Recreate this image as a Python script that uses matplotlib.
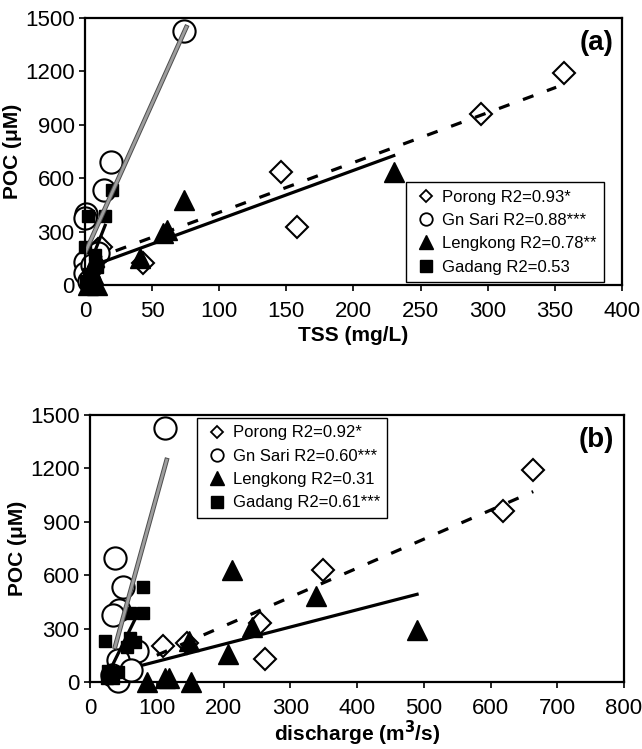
import matplotlib
matplotlib.use('Agg')
from matplotlib import pyplot as plt
from matplotlib import patheffects as pe
from matplotlib.lines import Line2D
import numpy as np

plt.rcParams['font.family'] = ['Liberation Sans', 'DejaVu Sans']

# Panel (a): POC vs TSS
porong_tss = [3, 6, 10, 12, 43, 146, 158, 295, 357]
porong_poc_a = [65, 100, 200, 215, 124, 632, 325, 962, 1192]
gnsari_tss = [74, 19.5, 14, 1, 0, 10, 0, 0, 3, 5]
gnsari_poc_a = [1427, 690, 535, 400, 375, 180, 130, 70, 20, 110]
lengkong_tss = [74, 61, 58, 41, 230, 2, 5, 7, 9, 6]
lengkong_poc_a = [478, 309, 290, 150, 636, 0, 20, 15, 0, 60]
gadang_tss = [20, 2.5, 15, 0, 7.4, 3, 1, 4, 9]
gadang_poc_a = [534, 388, 388, 215, 168, 60, 20, 30, 100]

# Panel (b): POC vs discharge
porong_q = [47, 60, 110, 146, 255, 262, 349, 618, 663]
porong_poc_b = [65, 100, 202, 218, 330, 129, 629, 961, 1191]
gnsari_q = [112, 37.5, 49, 44, 35, 70, 42, 33, 42, 62]
gnsari_poc_b = [1427, 695, 532, 404, 376, 176, 124, 40, 5, 67]
lengkong_q = [213, 338, 242, 148, 207, 490, 85, 112, 118, 152]
lengkong_poc_b = [629, 483, 311, 230, 156, 292, 0, 20, 20, 0]
gadang_q = [79, 60, 79, 22.5, 60, 55, 27, 25, 35, 42, 67]
gadang_poc_b = [535, 386, 386, 232, 245, 198, 60, 20, 20, 58, 226]

# regression lines: (x start, x end, slope, intercept)
fits_a = {'porong': (5, 351, 2.8, 128), 'gnsari': (0, 75.5, 16.8, 180),
          'lengkong': (3, 230, 2.755, 93), 'gadang': (0, 15, 19, 50)}
fits_b = {'porong': (100, 664, 1.63, -12.5), 'gnsari': (37.5, 114.8, 13.57, -311),
          'lengkong': (80, 490, 0.968, 18.6), 'gadang': (30, 71, 7.63, -162)}

labels_a = ['Porong R2=0.93*', 'Gn Sari R2=0.88***', 'Lengkong R2=0.78**',
            'Gadang R2=0.53']
labels_b = ['Porong R2=0.92*', 'Gn Sari R2=0.60***', 'Lengkong R2=0.31',
            'Gadang R2=0.61***']

# legend keys are drawn at roughly equal size
legend_keys = [
    Line2D([], [], ls='none', marker='D', ms=6.5, mfc='white', mec='black', mew=1.3),
    Line2D([], [], ls='none', marker='o', ms=9, mfc='white', mec='black', mew=1.3),
    Line2D([], [], ls='none', marker='^', ms=10, mfc='black', mec='black'),
    Line2D([], [], ls='none', marker='s', ms=8, mfc='black', mec='black'),
]


def fit_line(ax, fit, **kw):
    x = np.array([fit[0], fit[1]])
    return ax.plot(x, fit[2]*x + fit[3], **kw)


def draw_panel(ax, data, fits):
    (px, py), (gx, gy), (lx, ly), (sx, sy) = data
    ax.plot(px, py, 'D', ms=11, mfc='white', mec='black', mew=1.5,
            zorder=3, clip_on=False)
    ax.plot(gx, gy, 'o', ms=16, mfc='white', mec='black', mew=1.5,
            zorder=3, clip_on=False)
    ax.plot(lx, ly, '^', ms=14, mfc='black', mec='black', zorder=3,
            clip_on=False)
    ax.plot(sx, sy, 's', ms=8.5, mfc='black', mec='black', zorder=3,
            clip_on=False)
    fit_line(ax, fits['porong'], color='black', lw=2.3, ls=(0, (3.5, 4.5)),
             zorder=4)
    fit_line(ax, fits['lengkong'], color='black', lw=2.3, zorder=4)
    fit_line(ax, fits['gadang'], color='black', lw=2.3, zorder=4)
    fit_line(ax, fits['gnsari'], color='0.62', lw=2.0, zorder=5,
             path_effects=[pe.Stroke(linewidth=3.4, foreground='0.3'),
                           pe.Normal()])
    ax.set_ylim(0, 1500)
    ax.set_yticks(np.arange(0, 1501, 300))
    ax.set_ylabel('POC (\u03bcM)', fontsize=15, fontweight='bold', labelpad=2)
    for s in ax.spines.values():
        s.set_linewidth(1.6)
        s.set_zorder(6)
    ax.tick_params(axis='both', labelsize=16, width=1.2, length=4.5,
                   direction='out')
    ax.tick_params(axis='x', pad=7)
    ax.tick_params(axis='y', pad=3)


def add_legend(ax, labels, **kw):
    leg = ax.legend(legend_keys, labels, fontsize=12, handlelength=1.5,
                    handletextpad=0.2, labelspacing=0.5, borderpad=0.45,
                    fancybox=False, framealpha=1, edgecolor='black',
                    borderaxespad=0, **kw)
    leg.get_frame().set_linewidth(1.0)
    leg.set_zorder(7)


fig = plt.figure(figsize=(6.42, 7.49), dpi=100)

ax1 = fig.add_axes([0.1324, 0.6195, 0.8364, 0.3565])
draw_panel(ax1, [(porong_tss, porong_poc_a), (gnsari_tss, gnsari_poc_a),
                 (lengkong_tss, lengkong_poc_a), (gadang_tss, gadang_poc_a)],
           fits_a)
ax1.set_xlim(0, 400)
ax1.set_xticks(np.arange(0, 401, 50))
ax1.set_xlabel('TSS (mg/L)', fontsize=15, fontweight='bold', labelpad=3)
ax1.text(0.953, 0.906, '(a)', transform=ax1.transAxes, fontsize=20,
         fontweight='bold', ha='center', va='center')
add_legend(ax1, labels_a, loc='lower right', bbox_to_anchor=(0.966, 0.011))

ax2 = fig.add_axes([0.1402, 0.0894, 0.8318, 0.3565])
draw_panel(ax2, [(porong_q, porong_poc_b), (gnsari_q, gnsari_poc_b),
                 (lengkong_q, lengkong_poc_b), (gadang_q, gadang_poc_b)],
           fits_b)
ax2.set_xlim(0, 800)
ax2.set_xticks(np.arange(0, 801, 100))
ax2.set_xlabel('discharge (m$^\\mathbf{3}$/s)', fontsize=15,
               fontweight='bold', labelpad=0)
ax2.text(0.949, 0.906, '(b)', transform=ax2.transAxes, fontsize=20,
         fontweight='bold', ha='center', va='center')
add_legend(ax2, labels_b, loc='upper left', bbox_to_anchor=(0.2, 0.989))

plt.savefig('out.png', dpi=100)
plt.close()
